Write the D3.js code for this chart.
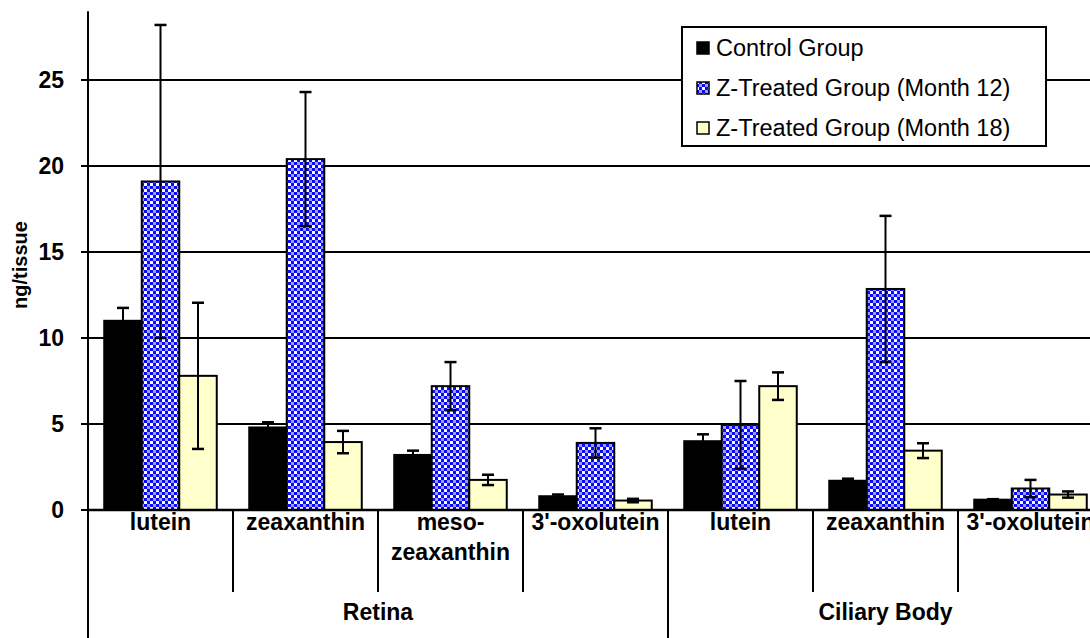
<!DOCTYPE html>
<html><head><meta charset="utf-8">
<script src="https://cdn.jsdelivr.net/npm/d3@7"></script>
<style>html,body{margin:0;padding:0;background:#fff;}svg{display:block;}</style>
</head><body>
<svg id="c" width="1090" height="638"></svg>
<script>
// ---- data ----
const categories = ["lutein", "zeaxanthin", "meso-\nzeaxanthin", "3'-oxolutein", "lutein", "zeaxanthin", "3'-oxolutein"];
const regions = ["Retina", "Ciliary Body"];
const regionSpans = [4, 3];
const seriesNames = ["Control Group", "Z-Treated Group (Month 12)", "Z-Treated Group (Month 18)"];
const controlValues = [11.0, 4.8, 3.2, 0.8, 4.0, 1.7, 0.6];
const controlErrors = [0.75, 0.3, 0.25, 0.1, 0.4, 0.12, 0.03];
const month12Values = [19.1, 20.4, 7.2, 3.9, 4.95, 12.85, 1.25];
const month12Errors = [9.1, 3.9, 1.4, 0.85, 2.55, 4.25, 0.5];
const month18Values = [7.8, 3.95, 1.75, 0.55, 7.2, 3.45, 0.9];
const month18Errors = [4.25, 0.65, 0.3, 0.1, 0.8, 0.43, 0.18];
const yTicks = [0, 5, 10, 15, 20, 25];
const yLabel = "ng/tissue";

// ---- layout ----
const svg = d3.select("#c");
const W = 1090, H = 638;
const left = 88, right = 1103, zeroY = 510;
const y = d3.scaleLinear().domain([0, 25]).range([zeroY, 80]);
const x = d3.scaleBand().domain(d3.range(categories.length)).range([left, right]).padding(0);
const xs = d3.scaleBand().domain(d3.range(3)).range([0, x.bandwidth()]).paddingInner(0).paddingOuter(0.433);

const defs = svg.append("defs");
const pat = defs.append("pattern").attr("id", "chk").attr("patternUnits", "userSpaceOnUse")
  .attr("width", 6).attr("height", 6);
pat.append("rect").attr("width", 6).attr("height", 6).attr("fill", "#ffffff");
pat.append("rect").attr("x", 0).attr("y", 0).attr("width", 3).attr("height", 3).attr("fill", "#0a0aff");
pat.append("rect").attr("x", 3).attr("y", 3).attr("width", 3).attr("height", 3).attr("fill", "#0a0aff");
pat.append("rect").attr("x", 3).attr("y", 0).attr("width", 3).attr("height", 3).attr("fill", "#9a9aff");

const fills = ["#000000", "url(#chk)", "#ffffcc"];
const series = [
  {v: controlValues, e: controlErrors},
  {v: month12Values, e: month12Errors},
  {v: month18Values, e: month18Errors}
];

const font = "Liberation Sans, Arial, Helvetica, sans-serif";

// gridlines
svg.append("g").selectAll("line").data(yTicks.filter(d => d > 0)).join("line")
  .attr("x1", left).attr("x2", W).attr("y1", d => y(d)).attr("y2", d => y(d))
  .attr("stroke", "#000").attr("stroke-width", 2);

// bars
series.forEach((s, si) => {
  const g = svg.append("g");
  g.selectAll("rect").data(s.v).join("rect")
    .attr("x", (d, i) => x(i) + xs(si))
    .attr("width", xs.bandwidth())
    .attr("y", d => y(d))
    .attr("height", d => zeroY - y(d))
    .attr("fill", fills[si]).attr("stroke", "#000").attr("stroke-width", 2);
});
// error bars
series.forEach((s, si) => {
  const g = svg.append("g");
  s.v.forEach((d, i) => {
    const cx = x(i) + xs(si) + xs.bandwidth() / 2;
    const t = y(d + s.e[i]), b = y(Math.max(0, d - s.e[i]));
    g.append("line").attr("x1", cx).attr("x2", cx).attr("y1", t).attr("y2", b).attr("stroke", "#000").attr("stroke-width", 2);
    [t, b].forEach(yy => g.append("line").attr("x1", cx - 6).attr("x2", cx + 6).attr("y1", yy).attr("y2", yy)
      .attr("stroke", "#000").attr("stroke-width", 2.5));
  });
});

// zero line / category axis
svg.append("line").attr("x1", left).attr("x2", W).attr("y1", zeroY).attr("y2", zeroY).attr("stroke", "#000").attr("stroke-width", 2.4);
// y axis line
svg.append("line").attr("x1", left).attr("x2", left).attr("y1", y(29.0)).attr("y2", H).attr("stroke", "#000").attr("stroke-width", 2);
// y ticks
const yAxis = svg.append("g");
yAxis.selectAll("line").data(yTicks).join("line")
  .attr("x1", left - 7).attr("x2", left).attr("y1", d => y(d)).attr("y2", d => y(d))
  .attr("stroke", "#000").attr("stroke-width", 2);
yAxis.selectAll("text").data(yTicks).join("text")
  .attr("x", 64).attr("y", d => y(d)).attr("dy", "0.36em").attr("text-anchor", "end")
  .attr("font-family", font).attr("font-weight", "bold").attr("font-size", 23).text(d => d);
svg.append("text").attr("transform", `translate(27,265) rotate(-90)`).attr("text-anchor", "middle")
  .attr("font-family", font).attr("font-weight", "bold").attr("font-size", 20).text(yLabel);

// category separators
const inner = svg.append("g");
categories.forEach((c, i) => {
  if (i > 0) {
    const isRegion = i === regionSpans[0];
    inner.append("line").attr("x1", x(i)).attr("x2", x(i)).attr("y1", zeroY).attr("y2", isRegion ? H : 592)
      .attr("stroke", "#000").attr("stroke-width", 2);
  }
  const lines = c.split("\n");
  const t = inner.append("text").attr("text-anchor", "middle").attr("font-family", font)
    .attr("font-weight", "bold").attr("font-size", 23);
  lines.forEach((ln, k) => t.append("tspan").attr("x", x(i) + x.bandwidth() / 2).attr("y", 530 + k * 30).text(ln));
});
// region labels
let start = 0;
regions.forEach((r, k) => {
  const x0 = x(start), x1 = x(start + regionSpans[k] - 1) + x.bandwidth();
  svg.append("text").attr("x", (x0 + x1) / 2).attr("y", 620).attr("text-anchor", "middle")
    .attr("font-family", font).attr("font-weight", "bold").attr("font-size", 23).text(r);
  start += regionSpans[k];
});

// legend
const lg = svg.append("g");
lg.append("rect").attr("x", 682).attr("y", 27).attr("width", 364).attr("height", 119)
  .attr("fill", "#fff").attr("stroke", "#000").attr("stroke-width", 2);
seriesNames.forEach((n, i) => {
  const cy = 48 + i * 40;
  lg.append("rect").attr("x", 697).attr("y", cy - 6).attr("width", 12).attr("height", 12)
    .attr("fill", fills[i]).attr("stroke", "#000").attr("stroke-width", 1.5);
  lg.append("text").attr("x", 716).attr("y", cy).attr("dy", "0.36em").attr("font-family", font)
    .attr("font-size", 23.5).text(n);
});
</script>
</body></html>
